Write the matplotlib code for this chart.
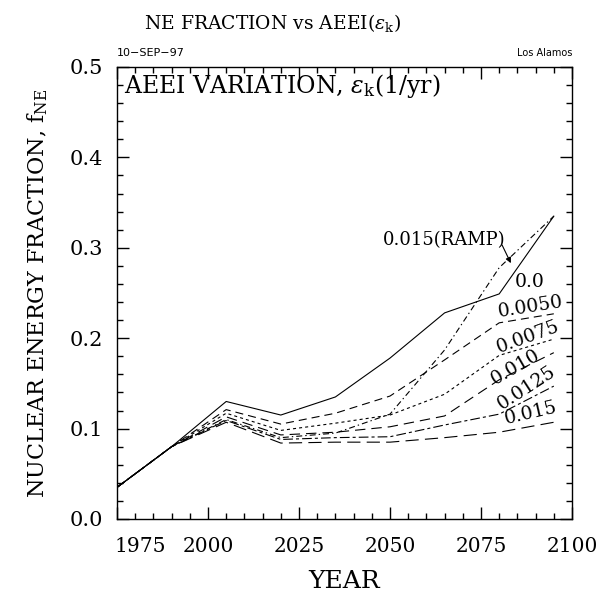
import matplotlib
matplotlib.use("Agg")
import matplotlib.pyplot as plt
from matplotlib.ticker import MultipleLocator

plt.rcParams['font.family'] = ['DejaVu Serif']
plt.rcParams['mathtext.fontset'] = 'dejavuserif'
plt.rcParams['lines.scale_dashes'] = False

# ----------------------------
# DATA: nuclear energy fraction per AEEI case
# ----------------------------
years = [1975, 1990, 2005, 2020, 2035, 2050, 2065, 2080, 2095]

f_000 = [0.035, 0.080, 0.130, 0.115, 0.135, 0.178, 0.228, 0.249, 0.335]
f_0050 = [0.035, 0.080, 0.121, 0.105, 0.117, 0.136, 0.176, 0.217, 0.227]
f_0075 = [0.035, 0.080, 0.117, 0.098, 0.106, 0.115, 0.138, 0.181, 0.199]
f_010 = [0.035, 0.080, 0.113, 0.093, 0.096, 0.102, 0.114, 0.154, 0.184]
f_0125 = [0.035, 0.080, 0.109, 0.088, 0.090, 0.091, 0.104, 0.116, 0.147]
f_015 = [0.035, 0.080, 0.107, 0.084, 0.085, 0.085, 0.090, 0.096, 0.107]
f_ramp = [0.035, 0.080, 0.110, 0.090, 0.095, 0.116, 0.187, 0.278, 0.335]

case_labels = ["0.0", "0.0050", "0.0075", "0.010", "0.0125", "0.015"]
x_ticks = [2000, 2025, 2050, 2075, 2100]
y_ticks = [0.0, 0.1, 0.2, 0.3, 0.4, 0.5]

fig = plt.figure(figsize=(5.97, 5.96), dpi=100)
ax = fig.add_axes([117 / 597, 1 - 519 / 596, 455 / 597, 452 / 596])

lw = 0.8
ax.plot(years, f_000, color='black', lw=lw, linestyle='-')
ax.plot(years, f_0050, color='black', lw=lw, linestyle=(0, (5.8, 3.6)))
ax.plot(years, f_0075, color='black', lw=lw, linestyle=(0, (2.2, 2.2)))
ax.plot(years, f_010, color='black', lw=lw, linestyle=(0, (7.5, 4.3)))
ax.plot(years, f_0125, color='black', lw=lw, linestyle=(0, (7, 2.2, 2.2, 2.2)))
ax.plot(years, f_015, color='black', lw=lw, linestyle=(0, (9.5, 4.5)))
ax.plot(years, f_ramp, color='black', lw=lw, linestyle=(0, (4.3, 2.2, 1.0, 2.2)))

ax.set_xlim(1975, 2100)
ax.set_ylim(0.0, 0.5)

# ticks on all four sides, pointing inward
ax.xaxis.set_major_locator(MultipleLocator(25))
ax.xaxis.set_minor_locator(MultipleLocator(5))
ax.yaxis.set_major_locator(MultipleLocator(0.1))
ax.yaxis.set_minor_locator(MultipleLocator(0.02))
ax.tick_params(which='both', direction='in', top=True, right=True, width=1.0)
ax.tick_params(which='major', length=8.6)
ax.tick_params(which='minor', length=4.3)
ax.tick_params(axis='x', which='major', pad=13, labelsize=14.5)
ax.tick_params(axis='y', which='major', pad=10, labelsize=15)
ax.set_xticks([1975] + x_ticks)
ax.set_xticklabels([""] + [str(y) for y in x_ticks])
ax.set_yticks(y_ticks)
ax.set_yticklabels([f"{v:.1f}" for v in y_ticks])
for s in ax.spines.values():
    s.set_linewidth(1.0)

# first year label sits a little right of the corner
ax.text(1981.3, -0.030, "1975", fontsize=14.5, ha='center', va='center',
        transform=ax.transData, clip_on=False)

ax.set_xlabel("YEAR", fontsize=18, labelpad=10)
ax.set_ylabel(r"NUCLEAR ENERGY FRACTION, $\mathrm{f}_{\mathrm{NE}}$", fontsize=16, labelpad=14)
fig.text(272 / 597, 1 - 23 / 596, r"NE FRACTION vs AEEI($\varepsilon_{\mathrm{k}}$)",
         fontsize=13.5, ha='center', va='center')

ax.text(0.015, 0.99, r"AEEI VARIATION, $\varepsilon_{\mathrm{k}}$(1/yr)",
        transform=ax.transAxes, fontsize=17, ha='left', va='top')
fig.text(117 / 597, 1 - 58 / 596, "10\u2212SEP\u221297", family='DejaVu Sans',
         fontsize=8, ha='left', va='bottom')
fig.text(572 / 597, 1 - 58 / 596, "Los Alamos", family='DejaVu Sans',
         fontsize=7, ha='right', va='bottom')

# curve labels near the right end of each line
label_pos = [(2088.5, 0.262, 0), (2088.5, 0.235, 9), (2088.0, 0.201, 20),
             (2084.5, 0.168, 30), (2087.5, 0.145, 33), (2088.7, 0.117, 13)]
for text, (lx, ly, rot) in zip(case_labels, label_pos):
    ax.text(lx, ly, text, fontsize=13.5, rotation=rot, ha='center', va='center',
            rotation_mode='anchor')

ax.text(2065.0, 0.309, "0.015(RAMP)", fontsize=13, ha='center', va='center')
ax.annotate("", xy=(2083.2, 0.283), xytext=(2080.8, 0.303),
            arrowprops=dict(arrowstyle='-|>', color='black', lw=0.8,
                            mutation_scale=8, shrinkA=0, shrinkB=0))

fig.savefig("out.png", dpi=100)
